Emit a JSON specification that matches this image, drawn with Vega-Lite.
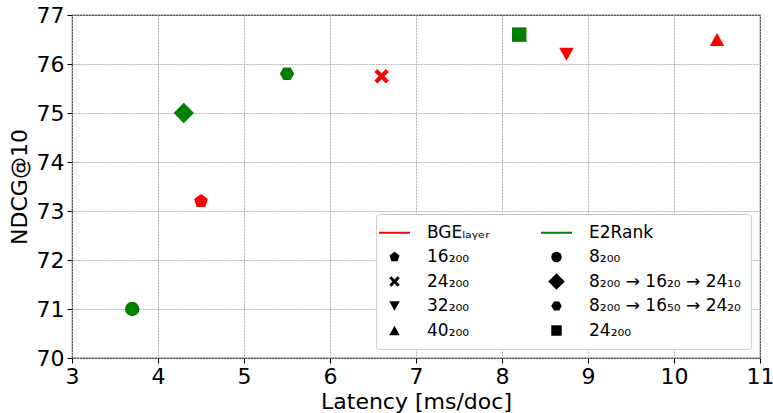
{
  "$schema": "https://vega.github.io/schema/vega-lite/v6.json",
  "width": 688,
  "height": 343,
  "autosize": "none",
  "padding": {"left": 72, "top": 15, "right": 13, "bottom": 55},
  "background": "white",
  "config": {
    "view": {"stroke": "black", "strokeWidth": 1.1},
    "axis": {
      "labelFont": "DejaVu Sans", "labelFontSize": 22, "labelColor": "black",
      "titleFont": "DejaVu Sans", "titleFontSize": 22, "titleFontWeight": "normal", "titleColor": "black",
      "domain": false, "tickColor": "black", "tickSize": 5, "tickWidth": 1,
      "gridColor": "#b0b0b0", "gridDash": [2, 1], "gridWidth": 1,
      "labelPadding": 3, "labelFlush": false, "labelOverlap": false
    }
  },
  "data": {
    "values": [
      {"latency": 4.5, "ndcg": 73.2, "model": "BGE_Layer", "config": "b16"},
      {"latency": 6.6, "ndcg": 75.75, "model": "BGE_Layer", "config": "b24"},
      {"latency": 8.75, "ndcg": 76.2, "model": "BGE_Layer", "config": "b32"},
      {"latency": 10.5, "ndcg": 76.5, "model": "BGE_Layer", "config": "b40"},
      {"latency": 3.7, "ndcg": 71.0, "model": "E2Rank", "config": "e8"},
      {"latency": 4.3, "ndcg": 75.0, "model": "E2Rank", "config": "e8a"},
      {"latency": 5.5, "ndcg": 75.8, "model": "E2Rank", "config": "e8b"},
      {"latency": 8.2, "ndcg": 76.6, "model": "E2Rank", "config": "e24"}
    ]
  },
  "mark": {"type": "point", "filled": true, "opacity": 1, "size": 210, "strokeWidth": 0},
  "encoding": {
    "x": {
      "field": "latency", "type": "quantitative",
      "scale": {"domain": [3, 11], "nice": false, "zero": false},
      "axis": {"title": "Latency [ms/doc]", "values": [3, 4, 5, 6, 7, 8, 9, 10, 11], "format": "d", "grid": true, "titlePadding": 4}
    },
    "y": {
      "field": "ndcg", "type": "quantitative",
      "scale": {"domain": [70, 77], "nice": false, "zero": false},
      "axis": {"title": "NDCG@10", "values": [70, 71, 72, 73, 74, 75, 76, 77], "format": "d", "grid": true, "titlePadding": 5}
    },
    "color": {
      "field": "model", "type": "nominal",
      "scale": {"domain": ["BGE_Layer", "E2Rank"], "range": ["#ff0000", "#008000"]},
      "legend": null
    },
    "shape": {
      "field": "config", "type": "nominal",
      "scale": {
        "domain": ["BGE_Layer", "b16", "b24", "b32", "b40", "E2Rank", "e8", "e8a", "e8b", "e24"],
        "range": [
          "stroke",
          "M0,-1L0.951,-0.309L0.588,0.809L-0.588,0.809L-0.951,-0.309Z",
          "M-1,-0.6L-0.6,-1L0,-0.4L0.6,-1L1,-0.6L0.4,0L1,0.6L0.6,1L0,0.4L-0.6,1L-1,0.6L-0.4,0Z",
          "M-1,-0.9L1,-0.9L0,0.9Z",
          "M0,-0.9L1,0.9L-1,0.9Z",
          "stroke",
          "circle",
          "M0,-1.4L1.4,0L0,1.4L-1.4,0Z",
          "M1,0L0.5,0.866L-0.5,0.866L-1,0L-0.5,-0.866L0.5,-0.866Z",
          "M-1,-1L1,-1L1,1L-1,1Z"
        ]
      },
      "legend": {
        "title": null,
        "columns": 2,
        "orient": "bottom-right",
        "offset": 9,
        "labelFont": "DejaVu Sans",
        "labelFontSize": 17,
        "labelColor": "black",
        "labelLimit": 400,
        "labelExpr": "datum.value == 'BGE_Layer' ? 'BGEₗₐᵧₑᵣ' : datum.value == 'E2Rank' ? 'E2Rank' : datum.value == 'b16' ? '16₂₀₀' : datum.value == 'b24' ? '24₂₀₀' : datum.value == 'b32' ? '32₂₀₀' : datum.value == 'b40' ? '40₂₀₀' : datum.value == 'e8' ? '8₂₀₀' : datum.value == 'e8a' ? '8₂₀₀ → 16₂₀ → 24₁₀' : datum.value == 'e8b' ? '8₂₀₀ → 16₅₀ → 24₂₀' : '24₂₀₀'",
        "symbolSize": {"expr": "datum.value == 'BGE_Layer' || datum.value == 'E2Rank' ? 961 : datum.value == 'e8a' ? 140 : 110"},
        "symbolFillColor": {"expr": "datum.value == 'BGE_Layer' || datum.value == 'E2Rank' ? 'transparent' : 'black'"},
        "symbolStrokeColor": {"expr": "datum.value == 'BGE_Layer' ? '#ff0000' : datum.value == 'E2Rank' ? '#008000' : 'transparent'"},
        "symbolStrokeWidth": {"expr": "datum.value == 'BGE_Layer' || datum.value == 'E2Rank' ? 2 : 0"},
        "symbolOpacity": 1,
        "labelOffset": 24,
        "rowPadding": 6.5,
        "columnPadding": 47,
        "padding": 10,
        "strokeColor": "#cccccc",
        "fillColor": "white",
        "cornerRadius": 3
      }
    }
  }
}
